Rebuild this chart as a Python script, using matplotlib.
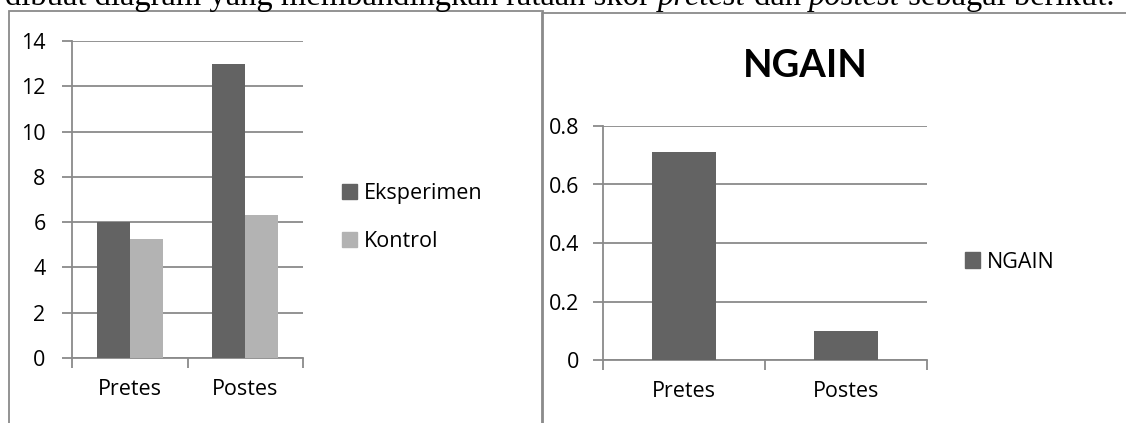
import matplotlib
matplotlib.use("Agg")
import matplotlib.pyplot as plt
from matplotlib.patches import Rectangle, Patch
import numpy as np

# ---- data ----
categories = ["Pretes", "Postes"]
eksperimen = [6.0, 13.0]
kontrol = [5.26, 6.3]
ngain = [0.71, 0.1]
left_yticks = [0, 2, 4, 6, 8, 10, 12, 14]
right_yticks = [0, 0.2, 0.4, 0.6, 0.8]
right_ytick_labels = ["0", "0.2", "0.4", "0.6", "0.8"]

DARK = "#636363"
LIGHT = "#b3b3b3"
GRID = "#8a8a8a"
FONT = ["Open Sans", "DejaVu Sans"]
FS = 15.5

W, H = 1126, 423
fig = plt.figure(figsize=(W / 100, H / 100), dpi=100)
fig.patch.set_facecolor("white")


def fx(px):
    return px / W


def fy(py):
    return 1 - py / H


# caption line (cut off at top)
parts = [("dibuat diagram yang membandingkan rataan skor ", "normal"),
         ("pretest", "italic"), (" dan ", "normal"), ("postest", "italic"),
         (" sebagai berikut.", "normal")]
renderer = fig.canvas.get_renderer()
x = 5.0
for txt, style in parts:
    t = fig.text(fx(x), fy(5), txt, fontsize=23.5, family="Liberation Serif",
                 style=style, va="baseline", ha="left", color="black")
    bb = t.get_window_extent(renderer=renderer)
    x += bb.width

# frames
fig.add_artist(Rectangle((fx(9), fy(440)), fx(543) - fx(9), fy(11) - fy(440),
                         transform=fig.transFigure, fill=False, ec=GRID, lw=1.3))
fig.add_artist(Rectangle((fx(542), fy(440)), fx(1140) - fx(542), fy(13) - fy(440),
                         transform=fig.transFigure, fill=False, ec=GRID, lw=1.3))


def style_axes(ax, yticks, ylabels, ymax, pad):
    ax.set_ylim(0, ymax)
    ax.set_xlim(-0.5, len(categories) - 0.5)
    ax.set_yticks(yticks)
    ax.set_yticklabels(ylabels, fontsize=FS, family=FONT)
    ax.set_xticks(range(len(categories)))
    ax.set_xticklabels(categories, fontsize=FS, family=FONT)
    ax.set_xticks(np.arange(-0.5, len(categories)), minor=True)
    ax.tick_params(axis="x", which="major", length=0, pad=15)
    ax.tick_params(axis="x", which="minor", length=7, color=GRID, width=1.3,
                   direction="out")
    ax.tick_params(axis="y", which="major", length=7, color=GRID, width=1.3,
                   direction="out", pad=pad)
    ax.yaxis.grid(True, color=GRID, lw=1.3)
    ax.set_axisbelow(True)
    for s in ["top", "right"]:
        ax.spines[s].set_visible(False)
    for s in ["left", "bottom"]:
        ax.spines[s].set_color(GRID)
        ax.spines[s].set_linewidth(1.3)
    ax.set_facecolor("none")


# left chart
ax1 = fig.add_axes([fx(72), fy(358), fx(303) - fx(72), fy(41) - fy(358)])
xpos = np.arange(len(categories))
bw = 1 / 3.5
ax1.bar(xpos - bw / 2, eksperimen, bw, color=DARK, label="Eksperimen", zorder=3)
ax1.bar(xpos + bw / 2, kontrol, bw, color=LIGHT, label="Kontrol", zorder=3)
style_axes(ax1, left_yticks, [str(v) for v in left_yticks], 14, 12)
fig.legend(handles=[Patch(color=DARK, label="Eksperimen"),
                    Patch(color=LIGHT, label="Kontrol")],
           loc="center left", bbox_to_anchor=(fx(342), fy(217.5)),
           frameon=False, prop={"family": FONT, "size": FS},
           handlelength=0.7, handleheight=0.7, handletextpad=0.3,
           labelspacing=1.25, borderaxespad=0, borderpad=0)

# right chart
ax2 = fig.add_axes([fx(603), fy(360), fx(927) - fx(603), fy(126) - fy(360)])
ax2.bar(xpos, ngain, 0.4, color=DARK, label="NGAIN", zorder=3)
style_axes(ax2, right_yticks, right_ytick_labels, 0.8, 10)
fig.text(fx(805), fy(66), "NGAIN", fontsize=27.5, fontweight="bold",
         family=["Lato", "DejaVu Sans"], ha="center", va="center")
fig.legend(handles=[Patch(color=DARK, label="NGAIN")],
           loc="center left", bbox_to_anchor=(fx(965), fy(262)),
           frameon=False, prop={"family": FONT, "size": FS},
           handlelength=0.7, handleheight=0.7, handletextpad=0.3,
           borderaxespad=0, borderpad=0)

fig.savefig("out.png", dpi=100, facecolor="white")
